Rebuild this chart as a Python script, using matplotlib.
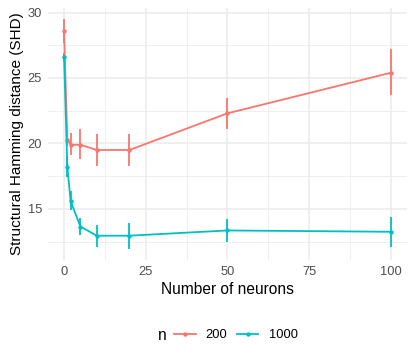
import matplotlib
matplotlib.use("Agg")
import matplotlib.pyplot as plt
from matplotlib.lines import Line2D

# --- data ---
neurons = [0, 1, 2, 5, 10, 20, 50, 100]

shd_200 = [28.6, 20.3, 19.9, 19.9, 19.5, 19.5, 22.3, 25.4]
lo_200 = [27.7, 19.8, 19.1, 18.8, 18.3, 18.3, 21.1, 23.7]
hi_200 = [29.5, 20.9, 20.8, 21.1, 20.75, 20.75, 23.5, 27.2]

shd_1000 = [26.6, 18.2, 15.6, 13.65, 12.95, 12.95, 13.35, 13.25]
lo_1000 = [26.3, 17.4, 14.9, 13.0, 12.1, 11.95, 12.45, 12.05]
hi_1000 = [26.9, 19.0, 16.4, 14.3, 13.75, 13.95, 14.2, 14.4]

series = [("200", shd_200, lo_200, hi_200, "#F8766D"),
          ("1000", shd_1000, lo_1000, hi_1000, "#00BFC4")]

x_ticks = [0, 25, 50, 75, 100]
y_ticks = [15, 20, 25, 30]

plt.rcParams['font.family'] = ['Liberation Sans', 'DejaVu Sans']

fig = plt.figure(figsize=(4.15, 3.63), dpi=100)
ax = fig.add_axes([0.115, 0.283, 0.866, 0.696])

handles = []
for name, y, lo, hi, col in series:
    ax.vlines(neurons, lo, hi, color=col, linewidth=1.3, zorder=3)
    ax.plot(neurons, y, color=col, linewidth=1.3, marker='o', markersize=2.2, zorder=4)
    handles.append(Line2D([], [], color=col, linewidth=1.3, marker='o', markersize=2.2))

ax.margins(x=0.05, y=0.05)
ax.set_xticks(x_ticks)
ax.set_xticks([12.5, 37.5, 62.5, 87.5], minor=True)
ax.set_yticks(y_ticks)
ax.set_yticks([12.5, 17.5, 22.5, 27.5], minor=True)
ax.grid(which='major', color='#EBEBEB', linewidth=1.1)
ax.grid(which='minor', color='#EBEBEB', linewidth=0.55)
ax.set_axisbelow(True)
for s in ax.spines.values():
    s.set_visible(False)
ax.tick_params(which='both', length=0, labelsize=9.3, labelcolor='#4D4D4D', pad=4)

ax.set_xlabel("Number of neurons", fontsize=11.2, labelpad=3)
ax.set_ylabel("Structural Hamming distance (SHD)", fontsize=11, labelpad=2.5)

fig.text(158 / 415, 1 - 336 / 363, "n", fontsize=11.2, ha='left', va='center')
fig.legend(handles, ["200", "1000"], ncol=2, loc='center',
           bbox_to_anchor=(236 / 415, 1 - 335 / 363), frameon=False,
           fontsize=9.3, handlelength=1.63, handletextpad=0.78, columnspacing=0.78,
           borderaxespad=0, borderpad=0)

fig.savefig("out.png", dpi=100)
